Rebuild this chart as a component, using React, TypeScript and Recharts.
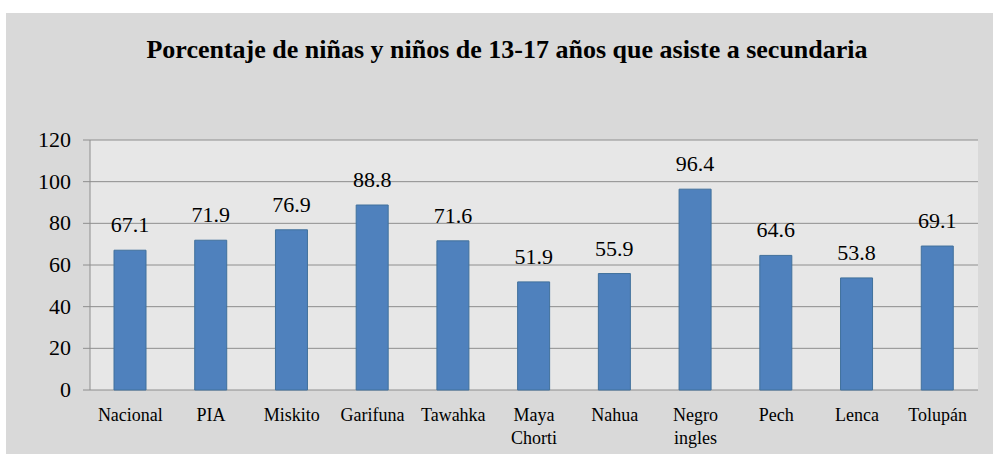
import { BarChart, Bar, XAxis, YAxis, CartesianGrid, LabelList } from "recharts";

const categories = [
  "Nacional",
  "PIA",
  "Miskito",
  "Garifuna",
  "Tawahka",
  "Maya Chorti",
  "Nahua",
  "Negro ingles",
  "Pech",
  "Lenca",
  "Tolupán",
];
const values = [67.1, 71.9, 76.9, 88.8, 71.6, 51.9, 55.9, 96.4, 64.6, 53.8, 69.1];
const yTicks = [0, 20, 40, 60, 80, 100, 120];
const boundaryTicks = [0, 1, 2, 3, 4, 5, 6, 7, 8, 9, 10, 11];

const data = categories.map((name, i) => ({ name, value: values[i] }));

const FONT = "Liberation Serif, Times New Roman, serif";
const GRID = "#8e8e8e";
const BAR = "#4f81bd";

function CategoryTick({ x, y, payload }: { x?: number; y?: number; payload?: { value: string } }) {
  const words = String(payload?.value ?? "").split(" ");
  return (
    <text x={x} y={y} textAnchor="middle" fontFamily={FONT} fontSize={18} fill="#000">
      {words.map((w, i) => (
        <tspan key={i} x={x} dy={i === 0 ? 31 : 23}>
          {w}
        </tspan>
      ))}
    </text>
  );
}

function ValueTick({ x, y, payload }: { x?: number; y?: number; payload?: { value: number } }) {
  return (
    <text x={x} y={y} dy={7} textAnchor="end" fontFamily={FONT} fontSize={22} fill="#000">
      {payload?.value}
    </text>
  );
}

function BarLabel(props: { x?: number; y?: number; width?: number; value?: number }) {
  const { x = 0, y = 0, width = 0, value = 0 } = props;
  return (
    <text x={x + width / 2} y={y - 18} textAnchor="middle" fontFamily={FONT} fontSize={22} fill="#000">
      {Number(value).toFixed(1)}
    </text>
  );
}

export default function App() {
  return (
    <div
      style={{
        position: "absolute",
        left: 0,
        top: 0,
        width: 993,
        height: 454,
        background: "#fff",
      }}
    >
      <div
        style={{
          position: "absolute",
          left: 6,
          top: 13,
          width: 987,
          height: 441,
          background: "#d9d9d9",
        }}
      >
        <div
          style={{
            position: "absolute",
            left: 0,
            width: 1002,
            top: 22,
            textAlign: "center",
            fontFamily: FONT,
            fontWeight: "bold",
            fontSize: 26,
            color: "#000",
          }}
        >
          Porcentaje de niñas y niños de 13-17 años que asiste a secundaria
        </div>
        <BarChart
          width={987}
          height={441}
          data={data}
          margin={{ top: 127, right: 15, left: 0, bottom: 0 }}
          style={{ position: "absolute", left: 0, top: 0 }}
        >
          <CartesianGrid vertical={false} stroke={GRID} fill="#e7e7e7" />
          <XAxis
            xAxisId="n"
            type="number"
            domain={[0, 11]}
            ticks={boundaryTicks}
            allowDataOverflow
            height={0}
            tick={false}
            tickSize={7}
            tickLine={{ stroke: GRID }}
            axisLine={{ stroke: GRID }}
          />
          <XAxis
            xAxisId="c"
            dataKey="name"
            height={64}
            interval={0}
            axisLine={false}
            tickLine={false}
            tickSize={0}
            tickMargin={0}
            tick={<CategoryTick />}
          />
          <YAxis
            width={84}
            domain={[0, 120]}
            ticks={yTicks}
            tickSize={7}
            tickMargin={12}
            tickLine={{ stroke: GRID }}
            axisLine={{ stroke: GRID }}
            tick={<ValueTick />}
          />
          <Bar
            xAxisId="c"
            dataKey="value"
            fill={BAR}
            stroke="#41719c"
            strokeWidth={1}
            barSize={32}
            isAnimationActive={false}
          >
            <LabelList dataKey="value" content={<BarLabel />} />
          </Bar>
        </BarChart>
      </div>
    </div>
  );
}
